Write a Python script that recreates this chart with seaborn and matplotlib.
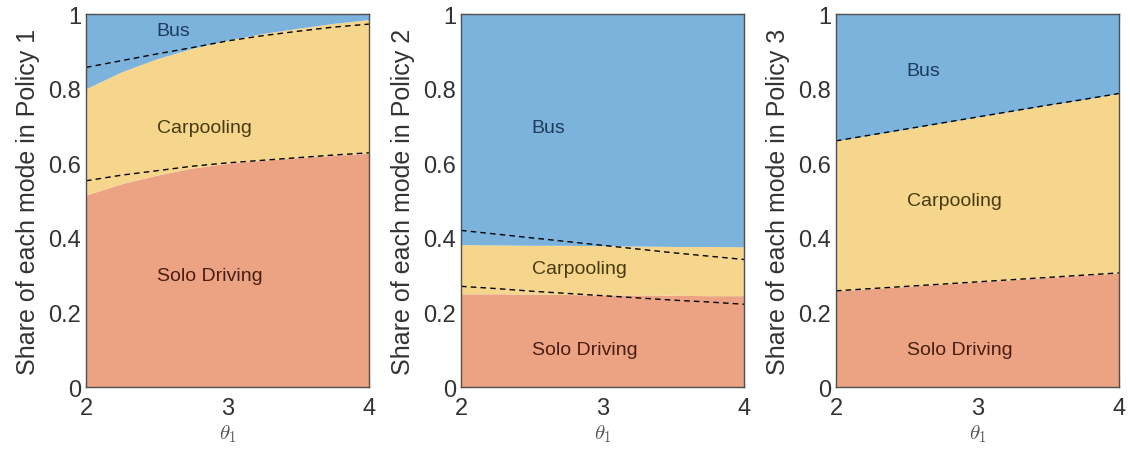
import numpy as np
import pandas as pd
import matplotlib
matplotlib.use("Agg")
import matplotlib.pyplot as plt
import seaborn as sns

# ---------------- data ----------------
theta = [2.0, 2.25, 2.5, 2.75, 3.0, 3.25, 3.5, 3.75, 4.0]

# Policy 1 (cumulative boundaries)
p1_solo = [0.515, 0.545, 0.568, 0.587, 0.600, 0.608, 0.615, 0.621, 0.627]
p1_carp_top = [0.800, 0.845, 0.880, 0.908, 0.930, 0.948, 0.962, 0.975, 0.985]
p1_dash_low = [0.553, 0.568, 0.580, 0.592, 0.601, 0.608, 0.615, 0.622, 0.628]
p1_dash_high = [0.857, 0.875, 0.893, 0.910, 0.928, 0.942, 0.954, 0.965, 0.973]

# Policy 2
p2_solo = [0.250, 0.250, 0.249, 0.248, 0.247, 0.247, 0.246, 0.245, 0.245]
p2_carp_top = [0.382, 0.381, 0.380, 0.380, 0.379, 0.378, 0.377, 0.377, 0.376]
p2_dash_low = [0.270, 0.264, 0.257, 0.251, 0.245, 0.239, 0.233, 0.228, 0.222]
p2_dash_high = [0.420, 0.410, 0.400, 0.390, 0.380, 0.370, 0.360, 0.351, 0.342]

# Policy 3
p3_solo = [0.258, 0.264, 0.270, 0.276, 0.282, 0.288, 0.294, 0.300, 0.306]
p3_carp_top = [0.660, 0.676, 0.692, 0.708, 0.724, 0.740, 0.756, 0.771, 0.787]
p3_dash_low = [0.258, 0.264, 0.270, 0.276, 0.282, 0.288, 0.294, 0.300, 0.306]
p3_dash_high = [0.660, 0.676, 0.692, 0.708, 0.724, 0.740, 0.756, 0.771, 0.787]

policies = ["Policy 1", "Policy 2", "Policy 3"]
modes = ["Solo Driving", "Carpooling", "Bus"]
xticks = [2, 3, 4]
yticks = [0, 0.2, 0.4, 0.6, 0.8, 1]
ytick_labels = ["0", "0.2", "0.4", "0.6", "0.8", "1"]

# label positions (x, y) per panel for Bus, Carpooling, Solo Driving
label_pos = [
    {"Bus": (2.5, 0.955), "Carpooling": (2.5, 0.697), "Solo Driving": (2.5, 0.298)},
    {"Bus": (2.5, 0.697), "Carpooling": (2.5, 0.318), "Solo Driving": (2.5, 0.100)},
    {"Bus": (2.5, 0.848), "Carpooling": (2.5, 0.500), "Solo Driving": (2.5, 0.100)},
]

# ---------------- style ----------------
sns.set_theme(style="ticks")
plt.rcParams["font.family"] = ["Liberation Sans", "DejaVu Sans"]
plt.rcParams["mathtext.fontset"] = "cm"

c_solo = "#EBA384"
c_carp = "#F5D68C"
c_bus = "#7BB3DD"
txt_colors = {"Bus": "#1F3A5C", "Carpooling": "#4A3A10", "Solo Driving": "#4A1E12"}
edge = "#505050"

fig = plt.figure(figsize=(11.3, 4.56), dpi=100)
lefts = [0.0761, 0.4080, 0.7398]
W, B, H = 0.2504, 0.149, 0.818

data = [
    (p1_solo, p1_carp_top, p1_dash_low, p1_dash_high),
    (p2_solo, p2_carp_top, p2_dash_low, p2_dash_high),
    (p3_solo, p3_carp_top, p3_dash_low, p3_dash_high),
]

for i, (solo, carp, dlow, dhigh) in enumerate(data):
    ax = fig.add_axes([lefts[i], B, W, H])
    x = np.array(theta)
    ax.fill_between(x, 0, solo, color=c_solo, linewidth=0, zorder=1)
    ax.fill_between(x, solo, carp, color=c_carp, linewidth=0, zorder=1)
    ax.fill_between(x, carp, 1, color=c_bus, linewidth=0, zorder=1)

    df = pd.DataFrame({"theta": theta * 2,
                       "share": list(dlow) + list(dhigh),
                       "line": ["low"] * len(theta) + ["high"] * len(theta)})
    sns.lineplot(data=df, x="theta", y="share", units="line", estimator=None,
                 color="black", linestyle=(0, (4, 3)), linewidth=1.0,
                 ax=ax, zorder=3, legend=False)

    for m in modes:
        lx, ly = label_pos[i][m]
        ax.text(lx, ly, m, fontsize=14, color=txt_colors[m], ha="left",
                va="center", zorder=4)

    ax.set_xlim(2, 4)
    ax.set_ylim(0, 1)
    ax.set_xticks(xticks)
    ax.set_xticklabels([str(t) for t in xticks])
    ax.set_yticks(yticks)
    ax.set_yticklabels(ytick_labels)
    ax.tick_params(direction="in", top=True, right=True, length=4,
                   labelsize=17, colors=edge, labelcolor="#333333", width=0.8)
    ax.tick_params(axis="x", pad=7)
    for s in ax.spines.values():
        s.set_visible(True)
        s.set_color(edge)
        s.set_linewidth(1.0)
        s.set_zorder(5)
    ax.set_xlabel(r"$\theta_1$", fontsize=15, color="#555555", labelpad=3)
    ax.set_ylabel("Share of each mode in " + policies[i], fontsize=18,
                  color="#333333", labelpad=6)

fig.savefig("out.png", dpi=100)
